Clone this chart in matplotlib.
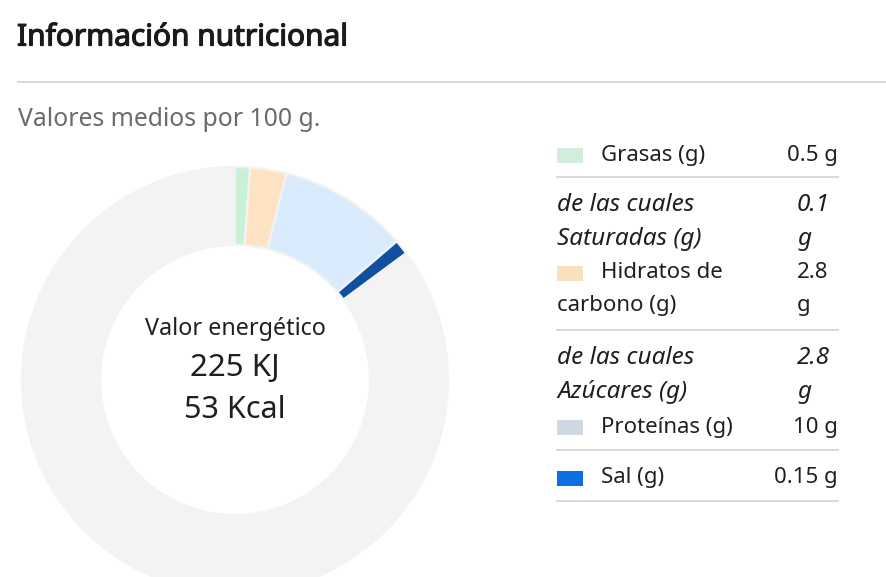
import matplotlib
matplotlib.use("Agg")
import matplotlib.pyplot as plt
import matplotlib.patheffects as pe
import numpy as np

plt.rcParams['font.family'] = ['Noto Sans', 'DejaVu Sans']

# ---- data ----
nutrients = ["Grasas (g)", "Hidratos de\ncarbono (g)", "Proteínas (g)", "Sal (g)"]
grams = [0.5, 2.8, 10, 0.15]
value_labels = ["0.5 g", "2.8\ng", "10 g", "0.15 g"]
sub_labels = ["de las cuales\nSaturadas (g)", "de las cuales\nAzúcares (g)"]
sub_values = ["0.1\ng", "2.8\ng"]
total_grams = 100
energy_kj = 225
energy_kcal = 53

chart_colors = ["#c9f1d6", "#fde3c1", "#d9ebfc", "#12509f"]
legend_colors = ["#d3ecdc", "#f9e0c1", "#cfd8e2", "#0e6fe3"]
rest_color = "#f3f3f3"

W, H = 886, 577
fig = plt.figure(figsize=(W / 100, H / 100), dpi=100)
fig.patch.set_facecolor("white")

def fx(x):
    return x / W

def fy(y):
    return 1 - y / H

# title / subtitle
fig.text(fx(17), fy(38), "Información nutricional", fontsize=21.5,
         color="#1a1a1a", ha="left", va="center",
         path_effects=[pe.withStroke(linewidth=0.9, foreground="#1a1a1a")])
fig.add_artist(plt.Line2D([fx(18), 1.0], [fy(82), fy(82)], color="#d6d6d6", lw=1.3))
fig.text(fx(18), fy(120), "Valores medios por 100 g.", fontsize=17.8,
         color="#6b6b6b", ha="left", va="center")

# ---- donut ----
cx, cy, R = 235, 380, 213
ax = fig.add_axes([fx(cx - R), fy(cy + R), 2 * R / W, 2 * R / H])
ax.axis("off")

min_share = 1.15  # minimum visible slice size (in % of the ring)
shown = [max(g, min_share) for g in grams]
rest = total_grams - sum(grams)
vals = shown + [rest]
cols = chart_colors + [rest_color]
ax.pie(vals, colors=cols, startangle=90, counterclock=False, radius=1,
       wedgeprops=dict(width=1 - 135 / 213, edgecolor=rest_color, linewidth=1.6))
ax.set_xlim(-1, 1)
ax.set_ylim(-1, 1)

# center texts
fig.text(fx(235), fy(329), "Valor energético", fontsize=16.8, color="#1f1f1f", ha="center", va="center")
fig.text(fx(235), fy(368), f"{energy_kj} KJ", fontsize=22.5, color="#1f1f1f", ha="center", va="center")
fig.text(fx(235), fy(410), f"{energy_kcal} Kcal", fontsize=22, color="#1f1f1f", ha="center", va="center")

# ---- legend table ----
fs = 16
fsi = 17.5
lx0, lx1 = 557, 838
txt_col = "#1f1f1f"
line_col = "#d9d9d9"

def hline(y):
    fig.add_artist(plt.Line2D([fx(lx0), fx(lx1)], [fy(y), fy(y)], color=line_col, lw=1.4))

def swatch(y, color):
    fig.add_artist(plt.Rectangle((fx(557), fy(y + 7.5)), 26 / W, 15 / H,
                                 transform=fig.transFigure, color=color, lw=0))

# Grasas
swatch(155, legend_colors[0])
fig.text(fx(601), fy(155), nutrients[0], fontsize=fs, color=txt_col, va="center")
fig.text(fx(838), fy(155), value_labels[0], fontsize=fs, color=txt_col, va="center", ha="right")
hline(177)
# Saturadas
fig.text(fx(557), fy(205), sub_labels[0].split("\n")[0], fontsize=fsi, style="italic", color=txt_col, va="center")
fig.text(fx(557), fy(239), sub_labels[0].split("\n")[1], fontsize=fsi, style="italic", color=txt_col, va="center")
fig.text(fx(797), fy(205), sub_values[0].split("\n")[0], fontsize=fsi, style="italic", color=txt_col, va="center")
fig.text(fx(797), fy(239), sub_values[0].split("\n")[1], fontsize=fsi, style="italic", color=txt_col, va="center")
# Hidratos
swatch(273, legend_colors[1])
fig.text(fx(601), fy(272), nutrients[1].split("\n")[0], fontsize=fs, color=txt_col, va="center")
fig.text(fx(557), fy(306), nutrients[1].split("\n")[1], fontsize=fs, color=txt_col, va="center")
fig.text(fx(797), fy(272), value_labels[1].split("\n")[0], fontsize=fs, color=txt_col, va="center")
fig.text(fx(797), fy(306), value_labels[1].split("\n")[1], fontsize=fs, color=txt_col, va="center")
hline(330)
# Azúcares
fig.text(fx(557), fy(358), sub_labels[1].split("\n")[0], fontsize=fsi, style="italic", color=txt_col, va="center")
fig.text(fx(557), fy(392), sub_labels[1].split("\n")[1], fontsize=fsi, style="italic", color=txt_col, va="center")
fig.text(fx(797), fy(358), sub_values[1].split("\n")[0], fontsize=fsi, style="italic", color=txt_col, va="center")
fig.text(fx(797), fy(392), sub_values[1].split("\n")[1], fontsize=fsi, style="italic", color=txt_col, va="center")
# Proteínas
swatch(427, legend_colors[2])
fig.text(fx(601), fy(427), nutrients[2], fontsize=fs, color=txt_col, va="center")
fig.text(fx(838), fy(427), value_labels[2], fontsize=fs, color=txt_col, va="center", ha="right")
hline(450)
# Sal
swatch(478, legend_colors[3])
fig.text(fx(601), fy(477), nutrients[3], fontsize=fs, color=txt_col, va="center")
fig.text(fx(838), fy(477), value_labels[3], fontsize=fs, color=txt_col, va="center", ha="right")
hline(501)

fig.savefig("out.png", dpi=100, facecolor="white")
